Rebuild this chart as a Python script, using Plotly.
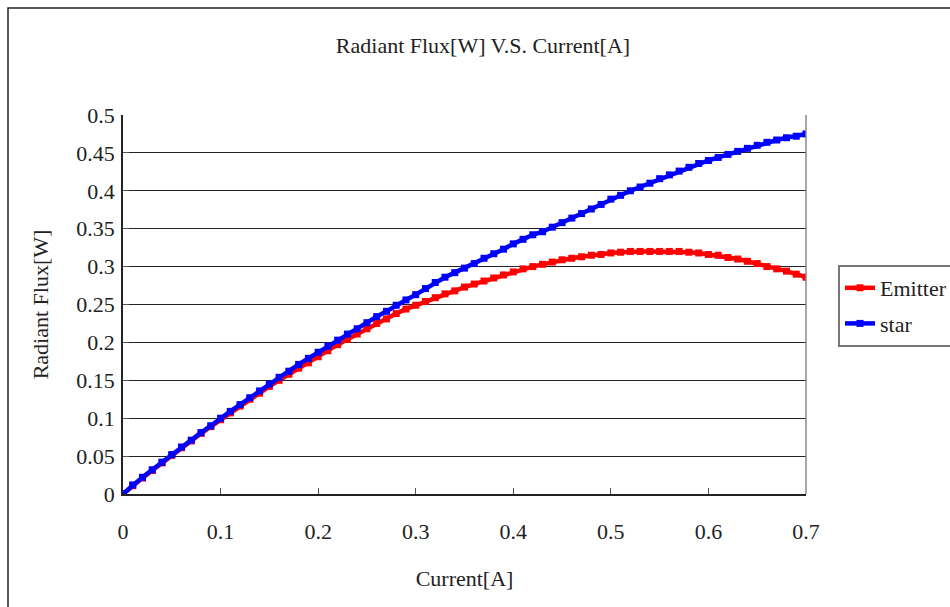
import plotly.graph_objects as go

# Drive current [A]
current = [0.00, 0.01, 0.02, 0.03, 0.04, 0.05, 0.06, 0.07, 0.08, 0.09,
           0.10, 0.11, 0.12, 0.13, 0.14, 0.15, 0.16, 0.17, 0.18, 0.19,
           0.20, 0.21, 0.22, 0.23, 0.24, 0.25, 0.26, 0.27, 0.28, 0.29,
           0.30, 0.31, 0.32, 0.33, 0.34, 0.35, 0.36, 0.37, 0.38, 0.39,
           0.40, 0.41, 0.42, 0.43, 0.44, 0.45, 0.46, 0.47, 0.48, 0.49,
           0.50, 0.51, 0.52, 0.53, 0.54, 0.55, 0.56, 0.57, 0.58, 0.59,
           0.60, 0.61, 0.62, 0.63, 0.64, 0.65, 0.66, 0.67, 0.68, 0.69,
           0.70]

# Radiant flux [W] of the bare emitter
emitter = [0.000, 0.011, 0.021, 0.031, 0.041, 0.051, 0.061, 0.070, 0.080, 0.089,
           0.098, 0.107, 0.116, 0.125, 0.133, 0.142, 0.150, 0.158, 0.166, 0.173,
           0.181, 0.189, 0.197, 0.204, 0.211, 0.218, 0.225, 0.231, 0.238, 0.244,
           0.249, 0.254, 0.259, 0.264, 0.268, 0.273, 0.277, 0.281, 0.285, 0.289,
           0.293, 0.297, 0.300, 0.303, 0.306, 0.309, 0.311, 0.313, 0.315, 0.316,
           0.318, 0.319, 0.320, 0.320, 0.320, 0.320, 0.320, 0.320, 0.319, 0.318,
           0.316, 0.315, 0.312, 0.310, 0.307, 0.304, 0.300, 0.297, 0.294, 0.290,
           0.286]

# Radiant flux [W] of the star-board package
star = [0.000, 0.012, 0.022, 0.032, 0.042, 0.052, 0.062, 0.071, 0.081, 0.090,
        0.100, 0.109, 0.118, 0.127, 0.136, 0.145, 0.154, 0.162, 0.171, 0.179,
        0.187, 0.195, 0.203, 0.211, 0.218, 0.226, 0.234, 0.241, 0.249, 0.256,
        0.263, 0.271, 0.279, 0.286, 0.292, 0.298, 0.304, 0.311, 0.317, 0.323,
        0.330, 0.336, 0.342, 0.346, 0.352, 0.358, 0.364, 0.370, 0.376, 0.382,
        0.389, 0.394, 0.400, 0.405, 0.410, 0.416, 0.421, 0.426, 0.431, 0.436,
        0.440, 0.444, 0.448, 0.452, 0.456, 0.460, 0.464, 0.467, 0.470, 0.472,
        0.475]

x_ticks = [0, 0.1, 0.2, 0.3, 0.4, 0.5, 0.6, 0.7]
x_tick_text = ["0", "0.1", "0.2", "0.3", "0.4", "0.5", "0.6", "0.7"]
y_ticks = [0, 0.05, 0.1, 0.15, 0.2, 0.25, 0.3, 0.35, 0.4, 0.45, 0.5]
y_tick_text = ["0", "0.05", "0.1", "0.15", "0.2", "0.25", "0.3", "0.35", "0.4", "0.45", "0.5"]

FONT = "Liberation Serif"
TXT = "#222222"
FS = 22

fig = go.Figure()
fig.add_trace(go.Scatter(
    x=current, y=emitter, name="Emitter", mode="lines+markers", legendgroup="emitter",
    line=dict(color="#ff0000", width=4.5),
    marker=dict(symbol="square", size=7, color="#ff0000"),
))
fig.add_trace(go.Scatter(
    x=current, y=star, name="star", mode="lines+markers", legendgroup="star",
    line=dict(color="#0000ff", width=4.5),
    marker=dict(symbol="square", size=7, color="#0000ff"),
))

# plot area spans 123..806 px horizontally and 115..494 px vertically
L, R, T, B = 123, 144, 115, 113
W, H = 950, 607
pw, ph = W - L - R, H - T - B

def px_x(px):
    return (px - L) / pw

def px_y(py):
    return (H - B - py) / ph

# outer chart frame
fig.add_shape(type="rect", xref="paper", yref="paper",
              x0=px_x(8), x1=px_x(960), y0=px_y(620), y1=px_y(8),
              line=dict(color="#222222", width=1.5), fillcolor="rgba(0,0,0,0)",
              layer="below")
# right edge of the plot area
fig.add_shape(type="line", xref="paper", yref="paper",
              x0=1, x1=1, y0=0, y1=1, line=dict(color="#888888", width=1.5))

fig.update_layout(
    width=W, height=H,
    margin=dict(l=L, r=R, t=T, b=B, autoexpand=False),
    paper_bgcolor="white", plot_bgcolor="white",
    font=dict(family=FONT, size=FS, color=TXT),
    title=dict(text="Radiant Flux[W] V.S. Current[A]", x=(483 - L) / pw, xref="paper",
               xanchor="center", y=1 - 45 / H, yanchor="middle",
               font=dict(family=FONT, size=FS, color=TXT)),
    showlegend=True,
    legend=dict(x=px_x(838), y=px_y(265), xanchor="left", yanchor="top",
                bordercolor="#777777", borderwidth=2, bgcolor="white",
                font=dict(family=FONT, size=FS, color=TXT),
                tracegroupgap=4),
    xaxis=dict(
        range=[0, 0.7], tickvals=x_ticks, ticktext=x_tick_text,
        showgrid=False, zeroline=False,
        showline=True, linecolor="#222222", linewidth=1.5,
        ticks="inside", ticklen=6, tickcolor="#555555",
        ticklabelstandoff=17,
        title=dict(text="Current[A]", standoff=27,
                   font=dict(family=FONT, size=FS, color=TXT)),
    ),
    yaxis=dict(
        range=[0, 0.5], tickvals=y_ticks, ticktext=y_tick_text,
        showgrid=True, gridcolor="#222222", gridwidth=1,
        zeroline=False,
        showline=True, linecolor="#222222", linewidth=1.5,
        ticks="inside", ticklen=6, tickcolor="#555555",
        ticklabelstandoff=2,
        title=dict(text="Radiant Flux[W]", standoff=22,
                   font=dict(family=FONT, size=FS, color=TXT)),
    ),
)

fig.write_html("out.html")
